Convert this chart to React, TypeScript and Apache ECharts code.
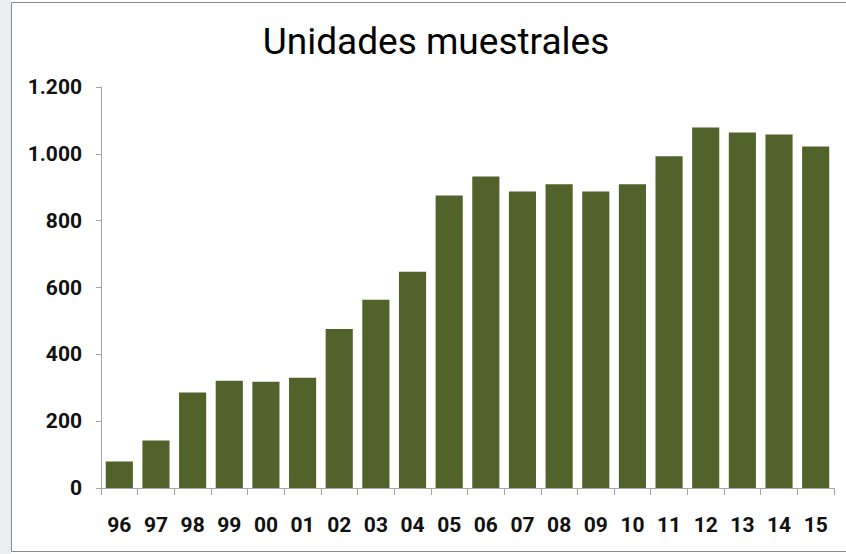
import React, { useEffect, useRef } from "react";
import * as echarts from "echarts";

const years = ["96", "97", "98", "99", "00", "01", "02", "03", "04", "05", "06", "07", "08", "09", "10", "11", "12", "13", "14", "15"];
const units = [79, 142, 286, 321, 318, 330, 476, 563, 647, 875, 932, 887, 909, 887, 909, 993, 1079, 1064, 1058, 1022];
const yTicks = [0, 200, 400, 600, 800, 1000, 1200];
const titleText = "Unidades muestrales";

function fmt(v: number): string {
  return String(v).replace(/\B(?=(\d{3})+(?!\d))/g, ".");
}

export default function App() {
  const ref = useRef<HTMLDivElement>(null);
  useEffect(() => {
    document.body.style.margin = "0";
    if (!ref.current) return;
    const chart = echarts.init(ref.current, undefined, { renderer: "svg" });
    chart.setOption({
      animation: false,
      backgroundColor: "#ffffff",
      title: {
        text: titleText,
        left: 431,
        top: 18,
        textAlign: "center",
        textStyle: { fontFamily: "Roboto", fontSize: 37, fontWeight: "normal", color: "#000" },
      },
      graphic: [
        {
          type: "rect",
          shape: { x: 0, y: 0, width: 11, height: 554 },
          style: { fill: "#eaeef2" },
          silent: true,
        },
        {
          type: "rect",
          shape: { x: 11.5, y: 2.5, width: 840, height: 549 },
          style: { fill: "none", stroke: "#8a8a8a", lineWidth: 1 },
          silent: true,
        },
      ],
      grid: { left: 101, right: 12, top: 87, bottom: 66, containLabel: false },
      xAxis: {
        type: "category",
        data: years,
        axisLine: { show: true, lineStyle: { color: "#a6a6a6", width: 1 } },
        axisTick: { show: true, alignWithLabel: false, length: 7, lineStyle: { color: "#a6a6a6" } },
        axisLabel: {
          margin: 26,
          fontFamily: "Roboto",
          fontWeight: "bold",
          fontSize: 21,
          color: "#111",
        },
      },
      yAxis: {
        type: "value",
        min: 0,
        max: 1200,
        interval: 200,
        splitLine: { show: false },
        axisLine: { show: true, lineStyle: { color: "#a6a6a6", width: 1 } },
        axisTick: { show: true, length: 5, lineStyle: { color: "#a6a6a6" } },
        axisLabel: {
          margin: 19,
          fontFamily: "Roboto",
          fontWeight: "bold",
          fontSize: 21,
          color: "#111",
          formatter: (v: number) => (yTicks.includes(v) ? fmt(v) : ""),
        },
      },
      series: [
        {
          type: "bar",
          data: units,
          barCategoryGap: "26%",
          itemStyle: { color: "#51622a" },
        },
      ],
    });
    return () => chart.dispose();
  }, []);
  return <div ref={ref} style={{ width: 846, height: 554 }} />;
}
